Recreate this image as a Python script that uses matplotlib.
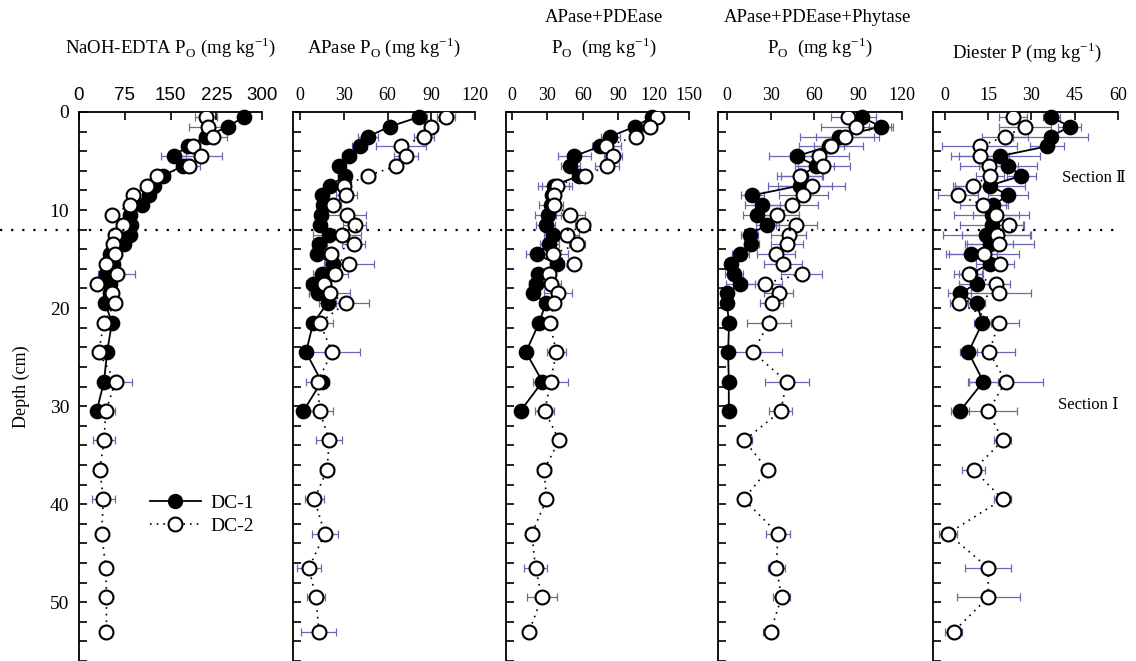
import numpy as np
import matplotlib
matplotlib.use('Agg')
import matplotlib.pyplot as plt
from matplotlib.ticker import MultipleLocator
from matplotlib.lines import Line2D
import matplotlib.transforms as mtransforms

plt.rcParams['font.family'] = ['Liberation Serif', 'DejaVu Serif']
plt.rcParams['mathtext.fontset'] = 'custom'
plt.rcParams['mathtext.rm'] = 'Liberation Serif'

# depths (cm)
depth1 = [0.5, 1.5, 2.5, 3.5, 4.5, 5.5, 6.5, 7.5, 8.5, 9.5, 10.5, 11.5, 12.5,
          13.5, 14.5, 15.5, 16.5, 17.5, 18.5, 19.5, 21.5, 24.5, 27.5, 30.5]
depth2 = depth1 + [33.5, 36.5, 39.5, 43, 46.5, 49.5, 53]

# NaOH-EDTA Po
naoh_dc1 = [270, 244, 208, 178, 155, 170, 138, 123, 115, 104, 84, 85, 84, 74, 51,
            56, 44, 51, 51, 43, 54, 46, 41, 29]
naoh_dc1_err = [8, 10, 8, 6, 20, 8, 11, 6, 5, 5, 4, 4, 5, 5, 6, 5, 13, 5, 4, 4, 4, 3, 4, 3]
naoh_dc2 = [208, 212, 220, 187, 200, 181, 128, 111, 89, 84, 54, 72, 59, 56, 59, 45,
            62, 29, 54, 59, 41, 32, 60, 44, 41, 34, 40, 37, 44, 45, 45]
naoh_dc2_err = [18, 31, 22, 8, 34, 17, 8, 5, 5, 5, 5, 5, 5, 5, 5, 5, 30, 4, 5, 5, 4,
                4, 27, 15, 18, 4, 19, 4, 4, 4, 4]

# APase Po
apase_dc1 = [81.8, 61.4, 46.6, 40.9, 33.6, 26.8, 30.7, 20.9, 15.2, 15.9, 14.1, 13.6,
             20, 13.2, 11.4, 22.3, 14.8, 9.1, 12.5, 18.9, 9.1, 4.1, 14.8, 2.3]
apase_dc1_err = [5, 4, 7, 5, 5, 4, 4, 4, 4, 4, 4, 4, 11, 5, 4, 5, 6, 5, 6, 6, 4, 3, 4, 3]
apase_dc2 = [100, 89.8, 85.2, 69.3, 72.7, 65.9, 46.6, 30, 31.8, 22.3, 32.5, 37.5, 29.1,
             36.8, 21.1, 33.4, 23.9, 16.4, 20.5, 31.4, 13.6, 22, 12, 13.6, 20, 18.6,
             9.8, 17, 6.1, 10.9, 13]
apase_dc2_err = [6, 5, 7, 17, 8, 4, 5, 4, 7, 6, 13, 8, 13, 8, 5, 17, 9, 5, 14, 16, 9,
                 19, 8, 9, 9, 5, 6.5, 9, 8.5, 6, 12]

# APase+PDEase Po
pde_dc1 = [119, 104, 83.4, 75, 52.7, 49.6, 56.9, 35.5, 34, 33, 30.7, 28.7, 34.9, 31.5,
           20.9, 38.3, 22.3, 20.3, 18, 28.7, 23.1, 11.8, 25.9, 7.3]
pde_dc1_err = [4, 5, 8, 6, 14, 8, 5, 13, 5, 10, 11, 8, 8, 8, 9, 6, 5, 6, 5, 5, 5, 4, 5, 4]
pde_dc2 = [122.8, 117, 104.8, 80, 85.6, 80.6, 61.7, 38.3, 35.5, 35.5, 49.6, 59.8, 47,
           55.2, 34.4, 52.4, 31.5, 33.5, 39.2, 35.5, 32.1, 37.7, 32.7, 27.9, 40, 27.3,
           29.3, 16.9, 20, 25.4, 14.6]
pde_dc2_err = [5, 6, 5, 12, 8, 10, 5, 13, 5, 5, 12, 6, 10, 7, 13, 5, 5, 8, 12, 5, 6,
               8, 15, 8, 3, 6, 3, 3, 10, 13, 3]

# APase+PDEase+Phytase Po
phy_dc1 = [92.3, 105.5, 77, 70, 47.9, 61.1, 50.9, 50.2, 17.5, 24.3, 20.9, 27.7, 15.7,
           16.8, 9.3, 3.2, 4.8, 9.3, 0, 0, 1.6, 0.9, 1.4, 1.4]
phy_dc1_err = [10, 8, 27, 10, 19, 12, 14, 22, 8, 12, 10, 8, 6, 5, 6, 4, 6, 10, 3, 3,
               3, 3, 3, 3]
phy_dc2 = [83.2, 88.4, 81.1, 71.4, 63.4, 65.7, 50.2, 58.2, 52.5, 44.8, 34.5, 47.5,
           42.3, 41.1, 33.9, 38.4, 51.4, 25.9, 35.7, 30.7, 28.9, 17.9, 41, 37, 12, 28,
           11.6, 35, 34, 37.5, 30]
phy_dc2_err = [12, 24, 20, 22, 20, 19, 16, 23, 17, 18, 15, 14, 12, 11, 13, 13, 14, 12,
               10, 8, 15, 20, 15, 8, 5, 4, 4, 8, 6, 6, 5]

# Diester P
die_dc1 = [36.9, 43.3, 36.6, 35.4, 19, 21.9, 26.5, 15.6, 21.9, 16.7, 16.2, 16.2, 14.4,
           15.6, 9.2, 15.6, 8.7, 11, 5.2, 11, 13, 8.1, 13.3, 5.2]
die_dc1_err = [3, 4, 13, 6, 14, 10, 5, 12, 7, 5, 13, 11, 15, 8, 9, 5, 4, 6, 4, 3, 3,
               3, 5, 3]
die_dc2 = [23.6, 27.7, 20.8, 12.1, 12.1, 15.3, 15.6, 9.8, 4.6, 13.3, 17.6, 22.3, 17.9,
           18.8, 13.5, 19, 8.3, 17.6, 18.7, 4.9, 18.7, 15.3, 21.1, 15, 20, 10, 20, 1,
           15, 15, 3]
die_dc2_err = [5, 9, 8, 13, 10, 10, 5, 7, 7, 8, 8, 5, 12, 12, 12, 5, 5, 5, 11, 3, 7,
               9, 13, 10, 3, 4, 3, 3, 8, 11, 3]

panels = [
    (naoh_dc1, naoh_dc1_err, naoh_dc2, naoh_dc2_err, (0, 300), [0, 75, 150, 225, 300]),
    (apase_dc1, apase_dc1_err, apase_dc2, apase_dc2_err, (-4.8, 120), [0, 30, 60, 90, 120]),
    (pde_dc1, pde_dc1_err, pde_dc2, pde_dc2_err, (-5, 150), [0, 30, 60, 90, 120, 150]),
    (phy_dc1, phy_dc1_err, phy_dc2, phy_dc2_err, (-6, 120), [0, 30, 60, 90, 120]),
    (die_dc1, die_dc1_err, die_dc2, die_dc2_err, (-4.15, 60), [0, 15, 30, 45, 60]),
]
# panel left edges / widths in pixels
lefts = [79, 293, 506, 718, 933]
widths = [183, 182, 183, 184, 185]

W, H = 1136, 661
fig = plt.figure(figsize=(W / 100, H / 100), dpi=100)
top_px = 112
errc = '#6a6ab4'

axes = []
for i, (d1, e1, d2, e2, xlim, xt) in enumerate(panels):
    ax = fig.add_axes([lefts[i] / W, 0, widths[i] / W, 1 - top_px / H])
    ax.errorbar(d1, depth1, xerr=e1, fmt='none', ecolor=errc, elinewidth=0.9,
                capsize=3, capthick=0.9, zorder=1)
    ax.errorbar(d2, depth2, xerr=e2, fmt='none', ecolor=errc, elinewidth=0.9,
                capsize=3, capthick=0.9, zorder=1)
    ax.plot(d1, depth1, '-', color='black', lw=1.3, marker='o', ms=10,
            mfc='black', mec='black', mew=1.3, zorder=3, clip_on=False)
    ax.plot(d2, depth2, linestyle=(0, (1, 3)), color='black', lw=1.2, marker='o',
            ms=10, mfc='white', mec='black', mew=1.5, zorder=4)
    ax.set_xlim(*xlim)
    ax.set_ylim(56, 0)
    ax.xaxis.tick_top()
    ax.set_xticks(xt)
    ax.tick_params(axis='x', direction='in', length=6, width=1.2, pad=6, labelsize=13)
    ax.yaxis.set_major_locator(MultipleLocator(10))
    ax.yaxis.set_minor_locator(MultipleLocator(2))
    ax.tick_params(axis='y', which='both', direction='in', length=6, width=1.2,
                   labelsize=14, pad=7)
    for s in ['right', 'bottom']:
        ax.spines[s].set_visible(False)
    for s in ['left', 'top']:
        ax.spines[s].set_linewidth(1.3)
    if i > 0:
        ax.set_yticklabels([])
    else:
        for lab in ax.get_xticklabels():
            lab.set_family('Liberation Sans')
            lab.set_fontsize(13.5)
    axes.append(ax)

ax1 = axes[0]
ax1.set_ylabel('Depth (cm)', fontsize=13, labelpad=14)

# section boundary
tr = mtransforms.blended_transform_factory(fig.transFigure, ax1.transData)
fig.add_artist(Line2D([0, 1118 / W], [12, 12], transform=tr, color='black',
                      lw=1.6, linestyle=(0, (1, 4)), zorder=10))

# legend
h1 = Line2D([], [], color='black', lw=1.3, marker='o', ms=10, mfc='black', mec='black')
h2 = Line2D([], [], color='black', lw=1.2, linestyle=(0, (1, 3)), marker='o', ms=10,
            mfc='white', mec='black', mew=1.5)
ax1.legend([h1, h2], ['DC-1', 'DC-2'], loc='upper left',
           bbox_to_anchor=(150 / W, 1 - 494 / H), bbox_transform=fig.transFigure,
           frameon=False, fontsize=14, handlelength=2.6, handletextpad=0.5,
           labelspacing=0.3, borderpad=0, borderaxespad=0)

# titles
tfs = 13.5
sub = r'P$_\mathregular{O}$'
unit = r'(mg kg$^\mathregular{-1}$)'
fig.text(170 / W, 1 - 47 / H, 'NaOH-EDTA ' + sub + ' ' + unit, ha='center', va='center', fontsize=tfs)
fig.text(384 / W, 1 - 47 / H, 'APase ' + sub + ' ' + unit, ha='center', va='center', fontsize=tfs)
fig.text(604 / W, 1 - 17 / H, 'APase+PDEase', ha='center', va='center', fontsize=tfs)
fig.text(604 / W, 1 - 47 / H, sub + '  ' + unit, ha='center', va='center', fontsize=tfs)
fig.text(817 / W, 1 - 17 / H, 'APase+PDEase+Phytase', ha='center', va='center', fontsize=tfs)
fig.text(820 / W, 1 - 47 / H, sub + '  ' + unit, ha='center', va='center', fontsize=tfs)
fig.text(1027 / W, 1 - 52 / H, 'Diester P ' + unit, ha='center', va='center', fontsize=tfs)

fam = ['Liberation Serif', 'DejaVu Serif', 'DejaVu Sans']
fig.text(1062 / W, 1 - 178 / H, 'Section \u2161', ha='left', va='center', fontsize=12, family=fam)
fig.text(1058 / W, 1 - 405 / H, 'Section \u2160', ha='left', va='center', fontsize=12, family=fam)

fig.savefig('out.png', dpi=100)
